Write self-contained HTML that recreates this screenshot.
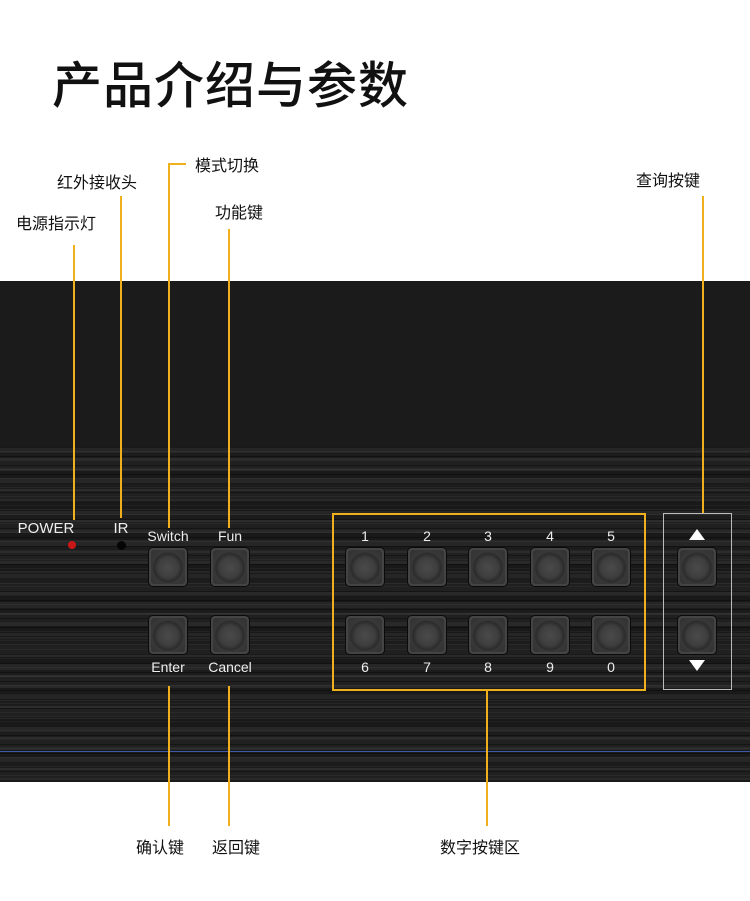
<!DOCTYPE html>
<html><head><meta charset="utf-8"><style>
body{margin:0;width:750px;height:901px;background:#fff;position:relative;overflow:hidden;font-family:"Liberation Sans","Noto Sans CJK SC",sans-serif}
.a{position:absolute}
.lbl{position:absolute;font-size:16px;color:#111;line-height:20px;white-space:nowrap;font-family:"Noto Sans CJK SC","WenQuanYi Zen Hei",sans-serif}
.vl{position:absolute;width:2px;background:#f0b01c}
.top{left:0;top:281px;width:750px;height:166px;background:#1b1b1b}
.brush{left:0;top:447px;width:750px;height:335px;background:
repeating-linear-gradient(180deg,rgba(0,0,0,.35) 0 1px,transparent 1px 4px,rgba(255,255,255,.04) 4px 5px,transparent 5px 9px),
repeating-linear-gradient(180deg,#262626 0 6px,#1c1c1c 6px 11px,#2c2c2c 11px 13px,#202020 13px 21px,#292929 21px 24px,#191919 24px 31px);}
.btn{position:absolute;width:38px;height:38px;border-radius:4px;background:#444;box-shadow:0 0 0 1px #0a0a0a}
.btn::after{content:"";position:absolute;left:2px;top:2px;width:34px;height:34px;border-radius:3px;background:radial-gradient(circle at 50% 52%,#4a4a4a 0,#3e3e3e 10px,#2c2c2c 14px,#383838 16px,#333 22px)}
.t{position:absolute;color:#eee;font-size:14px;font-family:"Liberation Sans",sans-serif;text-align:center;width:60px}
</style></head><body>
<div class="a" style="left:52px;top:50px;font-size:50px;font-weight:500;color:#111;font-family:'Noto Sans CJK SC',sans-serif;line-height:64px;letter-spacing:1px">产品介绍与参数</div>

<div class="lbl" style="left:16px;top:212px">电源指示灯</div>
<div class="lbl" style="left:57px;top:171px">红外接收头</div>
<div class="lbl" style="left:195px;top:154px">模式切换</div>
<div class="lbl" style="left:215px;top:201px">功能键</div>
<div class="lbl" style="left:636px;top:169px">查询按键</div>
<div class="lbl" style="left:136px;top:836px">确认键</div>
<div class="lbl" style="left:212px;top:836px">返回键</div>
<div class="lbl" style="left:440px;top:836px">数字按键区</div>

<div class="a top"></div>
<div class="a brush"></div>
<div class="a" style="left:0;top:751px;width:750px;height:1px;background:#3d5aa8"></div>

<div class="vl" style="left:73px;top:245px;height:275px"></div>
<div class="vl" style="left:120px;top:196px;height:322px"></div>
<div class="vl" style="left:168px;top:163px;height:365px"></div>
<div class="a" style="left:168px;top:163px;width:18px;height:2px;background:#f0b01c"></div>
<div class="vl" style="left:228px;top:229px;height:299px"></div>
<div class="vl" style="left:702px;top:196px;height:318px"></div>
<div class="vl" style="left:168px;top:686px;height:140px"></div>
<div class="vl" style="left:228px;top:686px;height:140px"></div>
<div class="vl" style="left:486px;top:690px;height:136px"></div>

<div class="a" style="left:332px;top:513px;width:310px;height:174px;border:2px solid #f0b01c"></div>
<div class="a" style="left:663px;top:513px;width:67px;height:175px;border:1px solid #bbb"></div>

<div class="t" style="left:16px;top:520px;font-size:15px">POWER</div>
<div class="a" style="left:68px;top:541px;width:8px;height:8px;border-radius:50%;background:#c81818"></div>
<div class="t" style="left:91px;top:520px;font-size:15px">IR</div>
<div class="a" style="left:117px;top:541px;width:9px;height:9px;border-radius:50%;background:#050505"></div>

<div class="t" style="left:138px;top:528px">Switch</div>
<div class="t" style="left:200px;top:528px">Fun</div>
<div class="btn" style="left:149px;top:548px"></div>
<div class="btn" style="left:211px;top:548px"></div>
<div class="btn" style="left:149px;top:616px"></div>
<div class="btn" style="left:211px;top:616px"></div>
<div class="t" style="left:138px;top:659px">Enter</div>
<div class="t" style="left:200px;top:659px">Cancel</div>

<div class="t" style="left:335px;top:528px">1</div>
<div class="t" style="left:397px;top:528px">2</div>
<div class="t" style="left:458px;top:528px">3</div>
<div class="t" style="left:520px;top:528px">4</div>
<div class="t" style="left:581px;top:528px">5</div>
<div class="btn" style="left:346px;top:548px"></div>
<div class="btn" style="left:408px;top:548px"></div>
<div class="btn" style="left:469px;top:548px"></div>
<div class="btn" style="left:531px;top:548px"></div>
<div class="btn" style="left:592px;top:548px"></div>
<div class="btn" style="left:346px;top:616px"></div>
<div class="btn" style="left:408px;top:616px"></div>
<div class="btn" style="left:469px;top:616px"></div>
<div class="btn" style="left:531px;top:616px"></div>
<div class="btn" style="left:592px;top:616px"></div>
<div class="t" style="left:335px;top:659px">6</div>
<div class="t" style="left:397px;top:659px">7</div>
<div class="t" style="left:458px;top:659px">8</div>
<div class="t" style="left:520px;top:659px">9</div>
<div class="t" style="left:581px;top:659px">0</div>

<div class="a" style="left:689px;top:529px;width:0;height:0;border-left:8px solid transparent;border-right:8px solid transparent;border-bottom:11px solid #fff"></div>
<div class="btn" style="left:678px;top:548px"></div>
<div class="btn" style="left:678px;top:616px"></div>
<div class="a" style="left:689px;top:660px;width:0;height:0;border-left:8px solid transparent;border-right:8px solid transparent;border-top:11px solid #fff"></div>
</body></html>
